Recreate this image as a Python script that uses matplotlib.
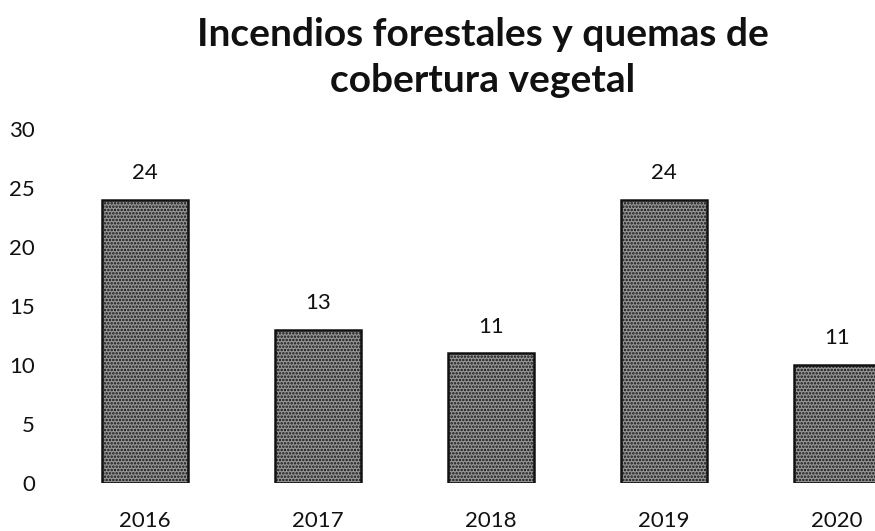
import matplotlib
matplotlib.use("Agg")
import matplotlib.pyplot as plt

years = ["2016", "2017", "2018", "2019", "2020"]
values = [24, 13, 11, 24, 10]
value_labels = ["24", "13", "11", "24", "11"]
y_ticks = [0, 5, 10, 15, 20, 25, 30]

plt.rcParams['font.family'] = ['Lato', 'DejaVu Sans']
plt.rcParams['hatch.linewidth'] = 1.2
plt.rcParams['hatch.color'] = '#111111'

fig = plt.figure(figsize=(8.75, 5.31), dpi=100)
ax = fig.add_axes([60/875, 48/531, 1 - 60/875, 354/531])

x = list(range(len(years)))
bars = ax.bar(x, values, width=0.5, color='#969696', edgecolor='#111111',
              linewidth=1.8, hatch='.....')

for xi, v, lab in zip(x, values, value_labels):
    ax.annotate(lab, (xi, v), xytext=(0, 12), textcoords='offset points',
                ha='center', va='bottom', fontsize=16, color='#111111')

ax.set_xlim(-0.49, 4.22)
ax.set_ylim(0, 30)
ax.set_yticks(y_ticks)
ax.set_xticks(x)
ax.set_xticklabels(years)
ax.tick_params(axis='both', length=0, labelsize=16, colors='#111111')
ax.tick_params(axis='x', pad=20)
ax.tick_params(axis='y', pad=18)
for s in ax.spines.values():
    s.set_visible(False)

fig.text(0.552, 0.892, "Incendios forestales y quemas de\ncobertura vegetal",
         ha='center', va='center', fontsize=28, fontweight='bold',
         color='#111111', linespacing=1.4)

fig.savefig("out.png", dpi=100)
